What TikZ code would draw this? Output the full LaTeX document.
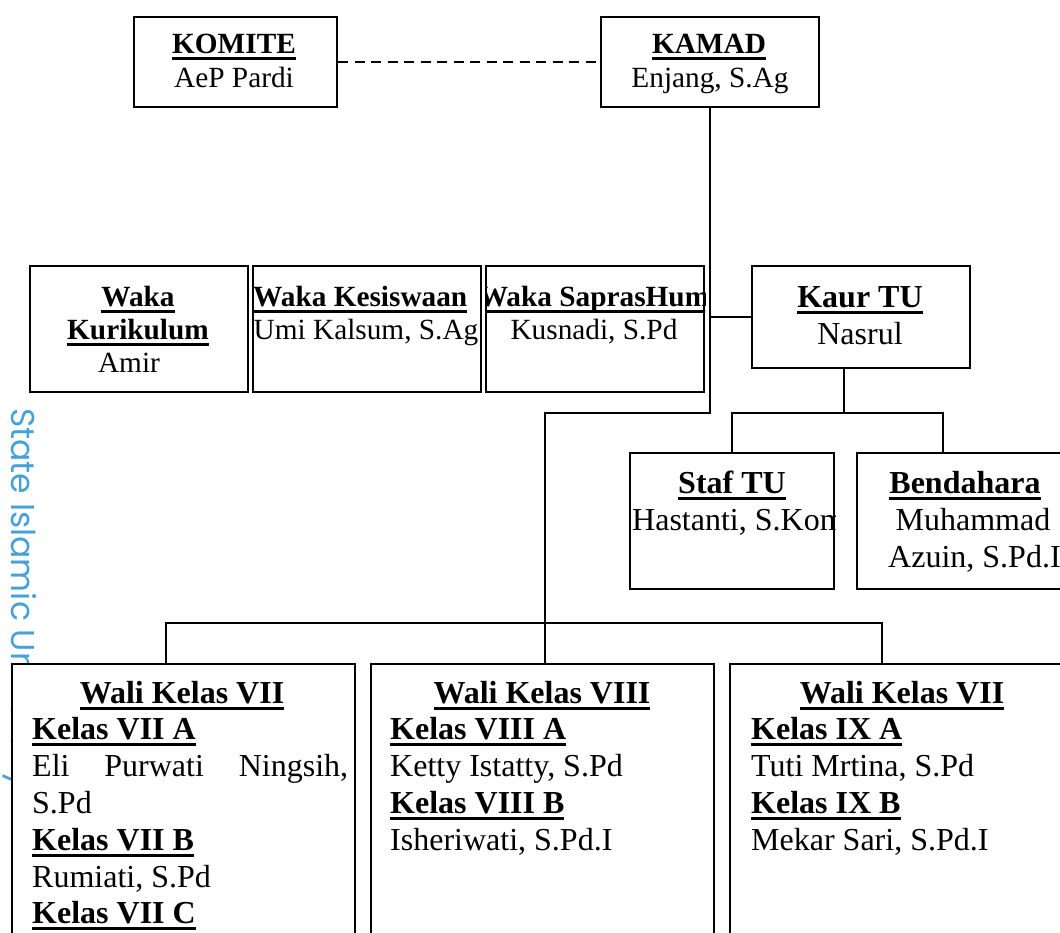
\documentclass[tikz,border=0pt]{standalone}
\usepackage{fontspec}
\setmainfont{Liberation Serif}
\newfontfamily\wmfont{Poppins}
\definecolor{wmblue}{RGB}{70,160,218}
\newcommand\ulbf[1]{\setbox0\hbox{\bfseries #1}\rlap{\rule[-6.5pt]{\wd0}{3pt}}\box0}
\tikzset{
  box/.style={draw, line width=2pt, fill=white, inner sep=0pt, anchor=north west},
  conn/.style={line width=1.8pt},
  dashln/.style={line width=1.8pt, dash pattern=on 10pt off 6.5pt},
  ft/.style={font=\fontsize{29.3}{33.7}\selectfont, inner sep=0pt, anchor=base},
  fb/.style={font=\fontsize{32}{36.8}\selectfont, inner sep=0pt, anchor=base},
  lw/.style={anchor=base west},
  wm/.style={font=\wmfont\fontsize{33}{40}\selectfont, text=wmblue, inner sep=0pt}
}
\begin{document}
\begin{tikzpicture}[x=1pt,y=-1pt]
\useasboundingbox (0,0) rectangle (1060,932);
% watermark
\node[wm, rotate=-90, anchor=base west] (wm) at (12,408) {State Islamic University};
% boxes
\node[box, minimum width=203pt, minimum height=90pt] (komite) at (133,16) {};
\node[box, minimum width=218pt, minimum height=90pt] (kamad) at (600,16) {};
\node[box, minimum width=218pt, minimum height=126pt] (kurik) at (29,265) {};
\node[box, minimum width=228pt, minimum height=126pt] (kesis) at (252,265) {};
\node[box, minimum width=218pt, minimum height=126pt] (sarpras) at (485,265) {};
\node[box, minimum width=218pt, minimum height=102pt] (kaur) at (751,265) {};
\node[box, minimum width=204pt, minimum height=136pt] (staf) at (629,452) {};
\node[box, minimum width=234pt, minimum height=136pt] (bend) at (856,452) {};
\node[box, minimum width=343pt, minimum height=300pt] (w7) at (11,663) {};
\node[box, minimum width=343pt, minimum height=300pt] (w8) at (370,663) {};
\node[box, minimum width=346pt, minimum height=300pt] (w9) at (729,663) {};
% connectors
\draw[dashln] (komite.east) -- (kamad.west);
\coordinate (hub) at (545,413);
\coordinate (bus) at (545,623);
\coordinate (d7) at (166,623);
\coordinate (d9) at (882,623);
\coordinate (dk) at (844,367);
\coordinate (tuhub) at (844,413);
\coordinate (db) at (943,413);
\draw[conn] (kamad.south) |- (hub) -- (bus);
\draw[conn] (kamad.south |- kaur.west) -- (kaur.west);
\draw[conn] (d7 |- w7.north) -- (d7) -- (d9) -- (d9 |- w9.north);
\draw[conn] (bus) -- (bus |- w8.north);
\draw[conn] (dk) -- (tuhub);
\draw[conn] (staf.north) |- (db) -- (db |- bend.north);
% texts top
\node[ft] (komiteT) at (234,53) {\ulbf{KOMITE}};
\node[ft] (komiteN) at (234,87) {AeP Pardi};
\node[ft] (kamadT) at (709,53) {\ulbf{KAMAD}};
\node[ft] (kamadN) at (710,87) {Enjang, S.Ag};
% waka row
\node[ft] (kurikT1) at (138,306) {\ulbf{Waka}};
\node[ft] (kurikT2) at (138,339) {\ulbf{Kurikulum}};
\node[ft] (kurikN) at (129,372) {Amir};
\node[ft, lw] (kesisT) at (253,306) {\ulbf{Waka Kesiswaan}};
\node[ft] (kesisN) at (366,339) {Umi Kalsum, S.Ag};
\begin{scope}
\clip (sarpras.north west) rectangle (sarpras.south east);
\node[ft] (sarprasT) at (594,306) {\ulbf{Waka SaprasHum}};
\node[ft] (sarprasN) at (594,339) {Kusnadi, S.Pd};
\end{scope}
\node[fb] (kaurT) at (860,307) {\ulbf{Kaur TU}};
\node[fb] (kaurN) at (860,344) {Nasrul};
% TU staff
\node[fb] (stafT) at (732,493) {\ulbf{Staf TU}};
\begin{scope}
\clip (staf.north west) rectangle (staf.south east);
\node[fb, lw] (stafN) at (632,530) {Hastanti, S.Kom};
\end{scope}
\node[fb] (bendT) at (965,493) {\ulbf{Bendahara}};
\node[fb] (bendN1) at (973,530) {Muhammad};
\node[fb, lw] (bendN2) at (888,567) {Azuin, S.Pd.I};
% wali kelas VII
\node[fb] (w7h) at (182,703) {\ulbf{Wali Kelas VII}};
\node[fb, lw] (w7a) at (32,739.8) {\ulbf{Kelas VII A}};
\node[fb, lw] (w7b) at (32,776.6) {\hbox to 316pt{Eli\hfill Purwati\hfill Ningsih,}};
\node[fb, lw] (w7c) at (32,813.4) {S.Pd};
\node[fb, lw] (w7d) at (32,850.2) {\ulbf{Kelas VII B}};
\node[fb, lw] (w7e) at (32,887) {Rumiati, S.Pd};
\node[fb, lw] (w7f) at (32,923.8) {\ulbf{Kelas VII C}};
% wali kelas VIII
\node[fb] (w8h) at (542,703) {\ulbf{Wali Kelas VIII}};
\node[fb, lw] (w8a) at (390,739.8) {\ulbf{Kelas VIII A}};
\node[fb, lw] (w8b) at (390,776.6) {Ketty Istatty, S.Pd};
\node[fb, lw] (w8c) at (390,813.4) {\ulbf{Kelas VIII B}};
\node[fb, lw] (w8d) at (390,850.2) {Isheriwati, S.Pd.I};
% wali kelas IX
\node[fb] (w9h) at (902,703) {\ulbf{Wali Kelas VII}};
\node[fb, lw] (w9a) at (751,739.8) {\ulbf{Kelas IX A}};
\node[fb, lw] (w9b) at (751,776.6) {Tuti Mrtina, S.Pd};
\node[fb, lw] (w9c) at (751,813.4) {\ulbf{Kelas IX B}};
\node[fb, lw] (w9d) at (751,850.2) {Mekar Sari, S.Pd.I};
\end{tikzpicture}
\end{document}
